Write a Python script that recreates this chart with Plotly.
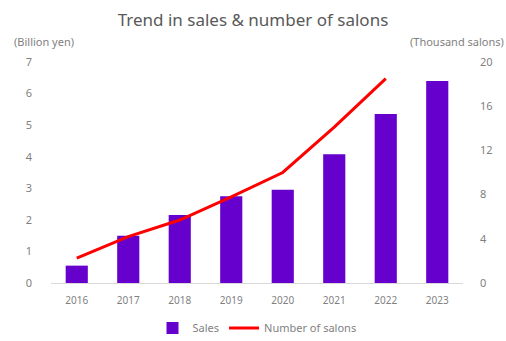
import plotly.graph_objects as go

years = ["2016", "2017", "2018", "2019", "2020", "2021", "2022", "2023"]
sales = [0.55, 1.5, 2.15, 2.75, 2.95, 4.08, 5.35, 6.4]          # billion yen
salon_years = ["2016", "2017", "2018", "2019", "2020", "2021", "2022"]
salons = [2.25, 4.2, 5.7, 7.8, 10.0, 14.1, 18.5]                # thousand salons

left_ticks = [0, 1, 2, 3, 4, 5, 6, 7]
right_ticks = [0, 4, 8, 12, 16, 20]

FONT = "Noto Sans"
GRAY = "#7f7f7f"

fig = go.Figure()
fig.add_trace(go.Bar(
    x=years, y=sales, name="Sales",
    marker=dict(color="#6600cc", line=dict(width=0)),
    width=0.43,
))
fig.add_trace(go.Scatter(
    x=salon_years, y=salons, name="Number of salons", yaxis="y2",
    mode="lines", line=dict(color="#ff0000", width=3),
))

fig.update_layout(
    width=506, height=341,
    margin=dict(l=51, r=43, t=62, b=58, autoexpand=False),
    paper_bgcolor="white", plot_bgcolor="white",
    font=dict(family=FONT, color=GRAY, size=11),
    title=dict(text="Trend in sales & number of salons", x=0.5, xanchor="center",
               y=0.94, yanchor="middle",
               font=dict(family=FONT, size=17, color="#595959")),
    xaxis=dict(type="category", showgrid=False, showline=True, linecolor="#d9d9d9",
               linewidth=1, ticks="", ticklabelstandoff=8,
               tickfont=dict(size=10, color=GRAY)),
    yaxis=dict(range=[0, 7], tickvals=left_ticks, showgrid=False, zeroline=False,
               ticks="", ticklabelstandoff=18, tickfont=dict(size=11, color=GRAY)),
    yaxis2=dict(range=[0, 20], tickvals=right_ticks, overlaying="y", side="right",
                showgrid=False, zeroline=False, ticks="", ticklabelstandoff=16,
                tickfont=dict(size=11, color=GRAY)),
    legend=dict(orientation="h", x=0.5, xanchor="center",
                yref="container", y=0.038, yanchor="middle",
                font=dict(size=11, color=GRAY)),
    bargap=0.57,
    annotations=[
        dict(text="(Billion yen)", xref="paper", yref="paper", x=-0.095, y=1.05,
             xanchor="left", yanchor="bottom", showarrow=False,
             font=dict(size=11, color=GRAY)),
        dict(text="(Thousand salons)", xref="paper", yref="paper", x=1.105, y=1.05,
             xanchor="right", yanchor="bottom", showarrow=False,
             font=dict(size=11, color=GRAY)),
    ],
)

fig.write_html("out.html")
